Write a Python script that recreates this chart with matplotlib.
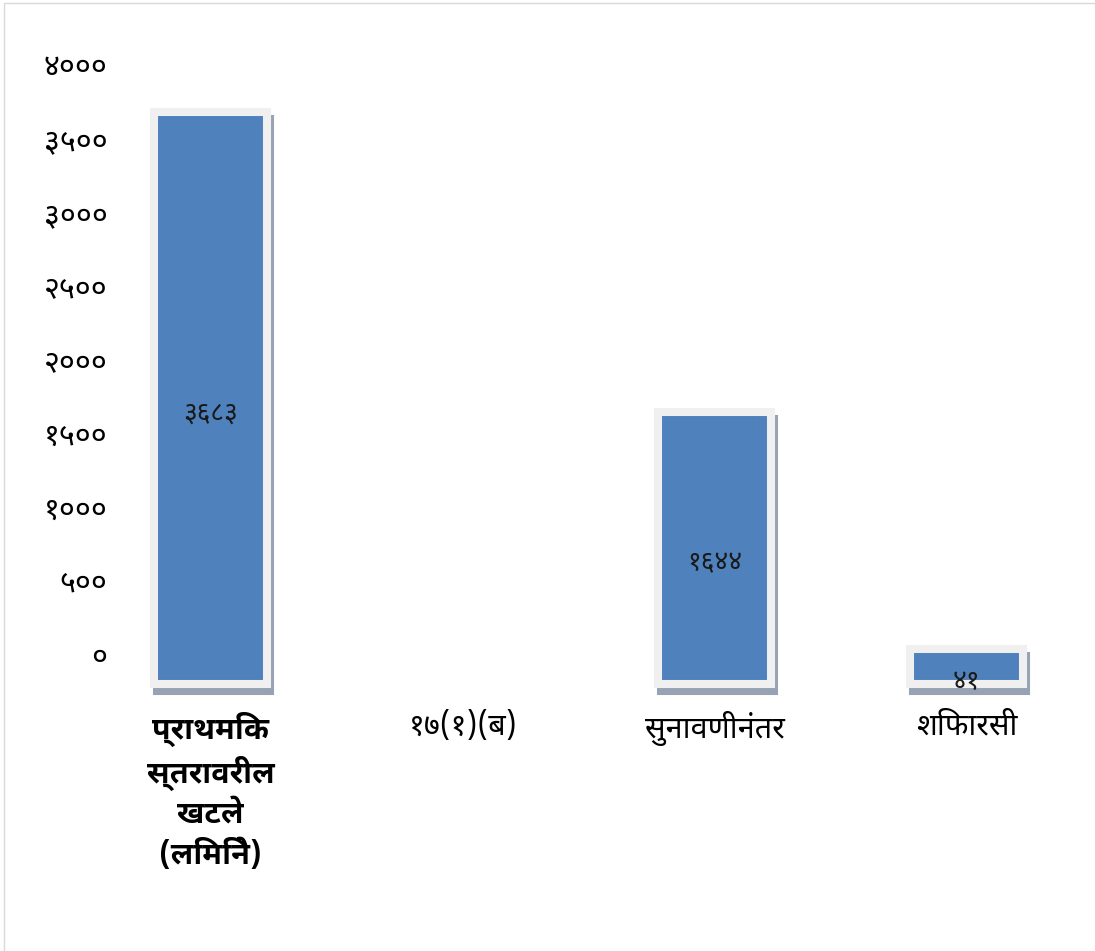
"""
Bar chart of case counts by stage (Marathi labels), Excel-style bars with
a light border and a grey drop shadow.
"""

import matplotlib
matplotlib.use("Agg")
import matplotlib.pyplot as plt
from matplotlib.lines import Line2D
from matplotlib.transforms import ScaledTranslation


CATEGORIES = ["प्राथमिक\nस्तरावरील\nखटले\n(लिमिने)", "१७(१)(ब)", "सुनावणीनंतर", "शिफारसी"]
VALUES = [3683, None, 1644, 41]
Y_TICKS = [0, 500, 1000, 1500, 2000, 2500, 3000, 3500, 4000]

FLOOR = -200          # bars stand on a floor below zero, like the 3D original
BAR_WIDTH = 0.45
BLUE = "#4f81bd"
BORDER = "#f0f0f0"
SHADOW = "#97a3b4"

FONT = ["Noto Sans Devanagari", "Noto Sans Devanagari UI", "DejaVu Sans"]
BOLD_FONT = ["Noto Sans Devanagari UI", "Noto Sans Devanagari", "DejaVu Sans"]
plt.rcParams["font.family"] = FONT

DEVA = str.maketrans("0123456789", "०१२३४५६७८९")


def deva(n: int) -> str:
    return str(n).translate(DEVA)


fig = plt.figure(figsize=(10.95, 9.51), dpi=100)
ax = fig.add_axes([0.1096, 0.265, 0.8584, 0.6823])

xs = [i for i, v in enumerate(VALUES) if v is not None]
vals = [v for v in VALUES if v is not None]
heights = [v - FLOOR for v in vals]

shadow = ax.transData + ScaledTranslation(0.03, -0.07, fig.dpi_scale_trans)
ax.bar(xs, heights, bottom=FLOOR, width=BAR_WIDTH, color=SHADOW,
       edgecolor=SHADOW, linewidth=5.8, transform=shadow, zorder=1)
ax.bar(xs, heights, bottom=FLOOR, width=BAR_WIDTH, color=BLUE,
       edgecolor=BORDER, linewidth=5.8, zorder=2)

for x, v in zip(xs, vals):
    ax.annotate(deva(v), (x, (v + FLOOR) / 2), xytext=(0, -11),
                textcoords="offset points", ha="center", va="center",
                fontsize=19, color="#1a1a1a", zorder=3)

ax.set_xlim(-0.36, 3.37)
ax.set_ylim(-300, 4100)
ax.set_yticks(Y_TICKS)
ax.set_yticklabels([deva(t) for t in Y_TICKS], fontsize=22)
ax.set_xticks(range(len(CATEGORIES)))
ax.set_xticklabels(CATEGORIES, fontsize=22, linespacing=1.35)
first = ax.get_xticklabels()[0]
first.set_family(BOLD_FONT)
first.set_fontweight("bold")
ax.tick_params(axis="both", length=0, colors="black")
ax.tick_params(axis="y", pad=9)
ax.tick_params(axis="x", pad=9)
for spine in ax.spines.values():
    spine.set_visible(False)

# faint frame on the left and top edges of the picture
fig.add_artist(Line2D([4 / 1095, 4 / 1095, 1], [0, 1 - 3 / 951, 1 - 3 / 951],
                      transform=fig.transFigure, color="#d9d9d9", linewidth=1))

fig.savefig("out.png", dpi=100)
